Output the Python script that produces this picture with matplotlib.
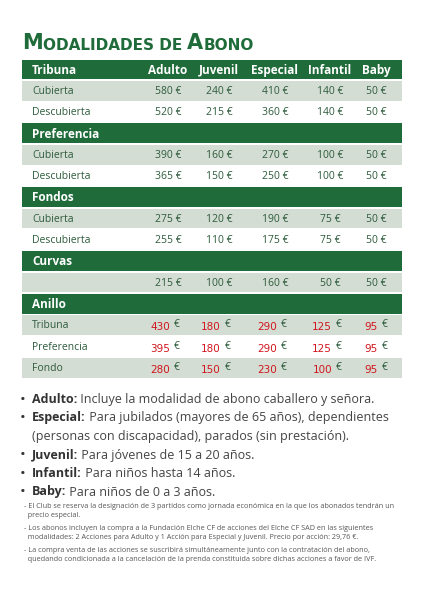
import matplotlib.pyplot as plt
from matplotlib.patches import Rectangle

plt.rcParams['font.family'] = ['Open Sans', 'DejaVu Sans']

# datos
columnas = ['Adulto', 'Juvenil', 'Especial', 'Infantil', 'Baby']
filas = [
    ('Tribuna', None, 'head'),
    ('Cubierta', [580, 240, 410, 140, 50], 'light'),
    ('Descubierta', [520, 215, 360, 140, 50], 'white'),
    ('Preferencia', None, 'head'),
    ('Cubierta', [390, 160, 270, 100, 50], 'light'),
    ('Descubierta', [365, 150, 250, 100, 50], 'white'),
    ('Fondos', None, 'head'),
    ('Cubierta', [275, 120, 190, 75, 50], 'light'),
    ('Descubierta', [255, 110, 175, 75, 50], 'white'),
    ('Curvas', None, 'head'),
    ('', [215, 100, 160, 50, 50], 'light'),
    ('Anillo', None, 'head'),
    ('Tribuna', [430, 180, 290, 125, 95], 'light'),
    ('Preferencia', [395, 180, 290, 125, 95], 'white'),
    ('Fondo', [280, 150, 230, 100, 95], 'light'),
]
notas = [
    ('Adulto:', ' Incluye la modalidad de abono caballero y señora.', None),
    ('Especial:', ' Para jubilados (mayores de 65 años), dependientes',
     '(personas con discapacidad), parados (sin prestación).'),
    ('Juvenil:', ' Para jóvenes de 15 a 20 años.', None),
    ('Infantil:', ' Para niños hasta 14 años.', None),
    ('Baby:', ' Para niños de 0 a 3 años.', None),
]
pies = [
    '- El Club se reserva la designación de 3 partidos como jornada económica en la que los abonados tendrán un\n  precio especial.',
    '- Los abonos incluyen la compra a la Fundación Elche CF de acciones del Elche CF SAD en las siguientes\n  modalidades: 2 Acciones para Adulto y 1 Acción para Especial y Juvenil. Precio por acción: 29,76 €.',
    '- La compra venta de las acciones se suscribirá simultáneamente junto con la contratación del abono,\n  quedando condicionada a la cancelación de la prenda constituida sobre dichas acciones a favor de IVF.',
]

verde = '#1f6b3a'
claro = '#d4ddd3'
texto = '#2d5b3c'
rojo = '#d2151e'

fig = plt.figure(figsize=(4.24, 6), dpi=100)
ax = fig.add_axes([0, 0, 1, 1])
ax.set_xlim(0, 424)
ax.set_ylim(600, 0)
ax.axis('off')

# titulo en versalitas
estilo = dict(fontweight='heavy', color=verde, family='DejaVu Sans')
prev = ax.text(22, 49, 'M', fontsize=15, va='baseline', **estilo)
for trozo, tam in [('ODALIDADES DE ', 11), ('A', 15), ('BONO', 11)]:
    prev = ax.annotate(trozo, xy=(1, 0), xycoords=prev, va='bottom', ha='left',
                       fontsize=tam, **estilo)

x0, x1 = 22, 402
y0, h = 59.5, 21.3
col_x = [168, 219, 275, 330, 376]
for i, (nombre, vals, tipo) in enumerate(filas):
    y = y0 + i * h
    if tipo == 'head':
        ax.add_patch(Rectangle((x0, y), x1 - x0, h - 1.5, color=verde, lw=0))
        ax.text(32, y + h / 2, nombre, fontsize=8.5, fontweight='bold', color='white', va='center')
        if i == 0:
            for cx, c in zip(col_x, columnas):
                ax.text(cx, y + h / 2, c, fontsize=8.5, fontweight='bold', color='white',
                        va='center', ha='center')
        continue
    if tipo == 'light':
        ax.add_patch(Rectangle((x0, y), x1 - x0, h - 1.5, color=claro, lw=0))
    ax.text(32, y + h / 2, nombre, fontsize=7.5, color=texto, va='center')
    anillo = i >= 12
    for cx, v in zip(col_x, vals):
        if anillo:
            ax.text(cx + 2, y + h / 2 + 1.5, str(v), fontsize=7.5, color=rojo, va='center',
                    ha='right', family='DejaVu Sans')
            ax.text(cx + 6, y + h / 2 - 1, '€', fontsize=7.5, color=texto, va='center', ha='left')
        else:
            ax.text(cx, y + h / 2, f'{v} €', fontsize=7.5, color=texto, va='center', ha='center')

# notas
yb = 393
for b, t, t2 in notas:
    ax.text(20, yb + 7, '•', fontsize=11, color='#333333', va='center')
    tb = ax.text(32, yb, b, fontsize=9, fontweight='bold', color='#333333', va='top')
    ax.annotate(t, xy=(1, 1), xycoords=tb, va='top', ha='left',
                fontsize=9, color='#444444')
    yb += 18.5
    if t2:
        ax.text(32, yb, t2, fontsize=9, color='#444444', va='top')
        yb += 18.5

yp = 503
for p in pies:
    ax.text(24, yp, p, fontsize=5.2, color='#555555', va='top', linespacing=1.4)
    yp += 22

fig.savefig('out.png', dpi=100)
